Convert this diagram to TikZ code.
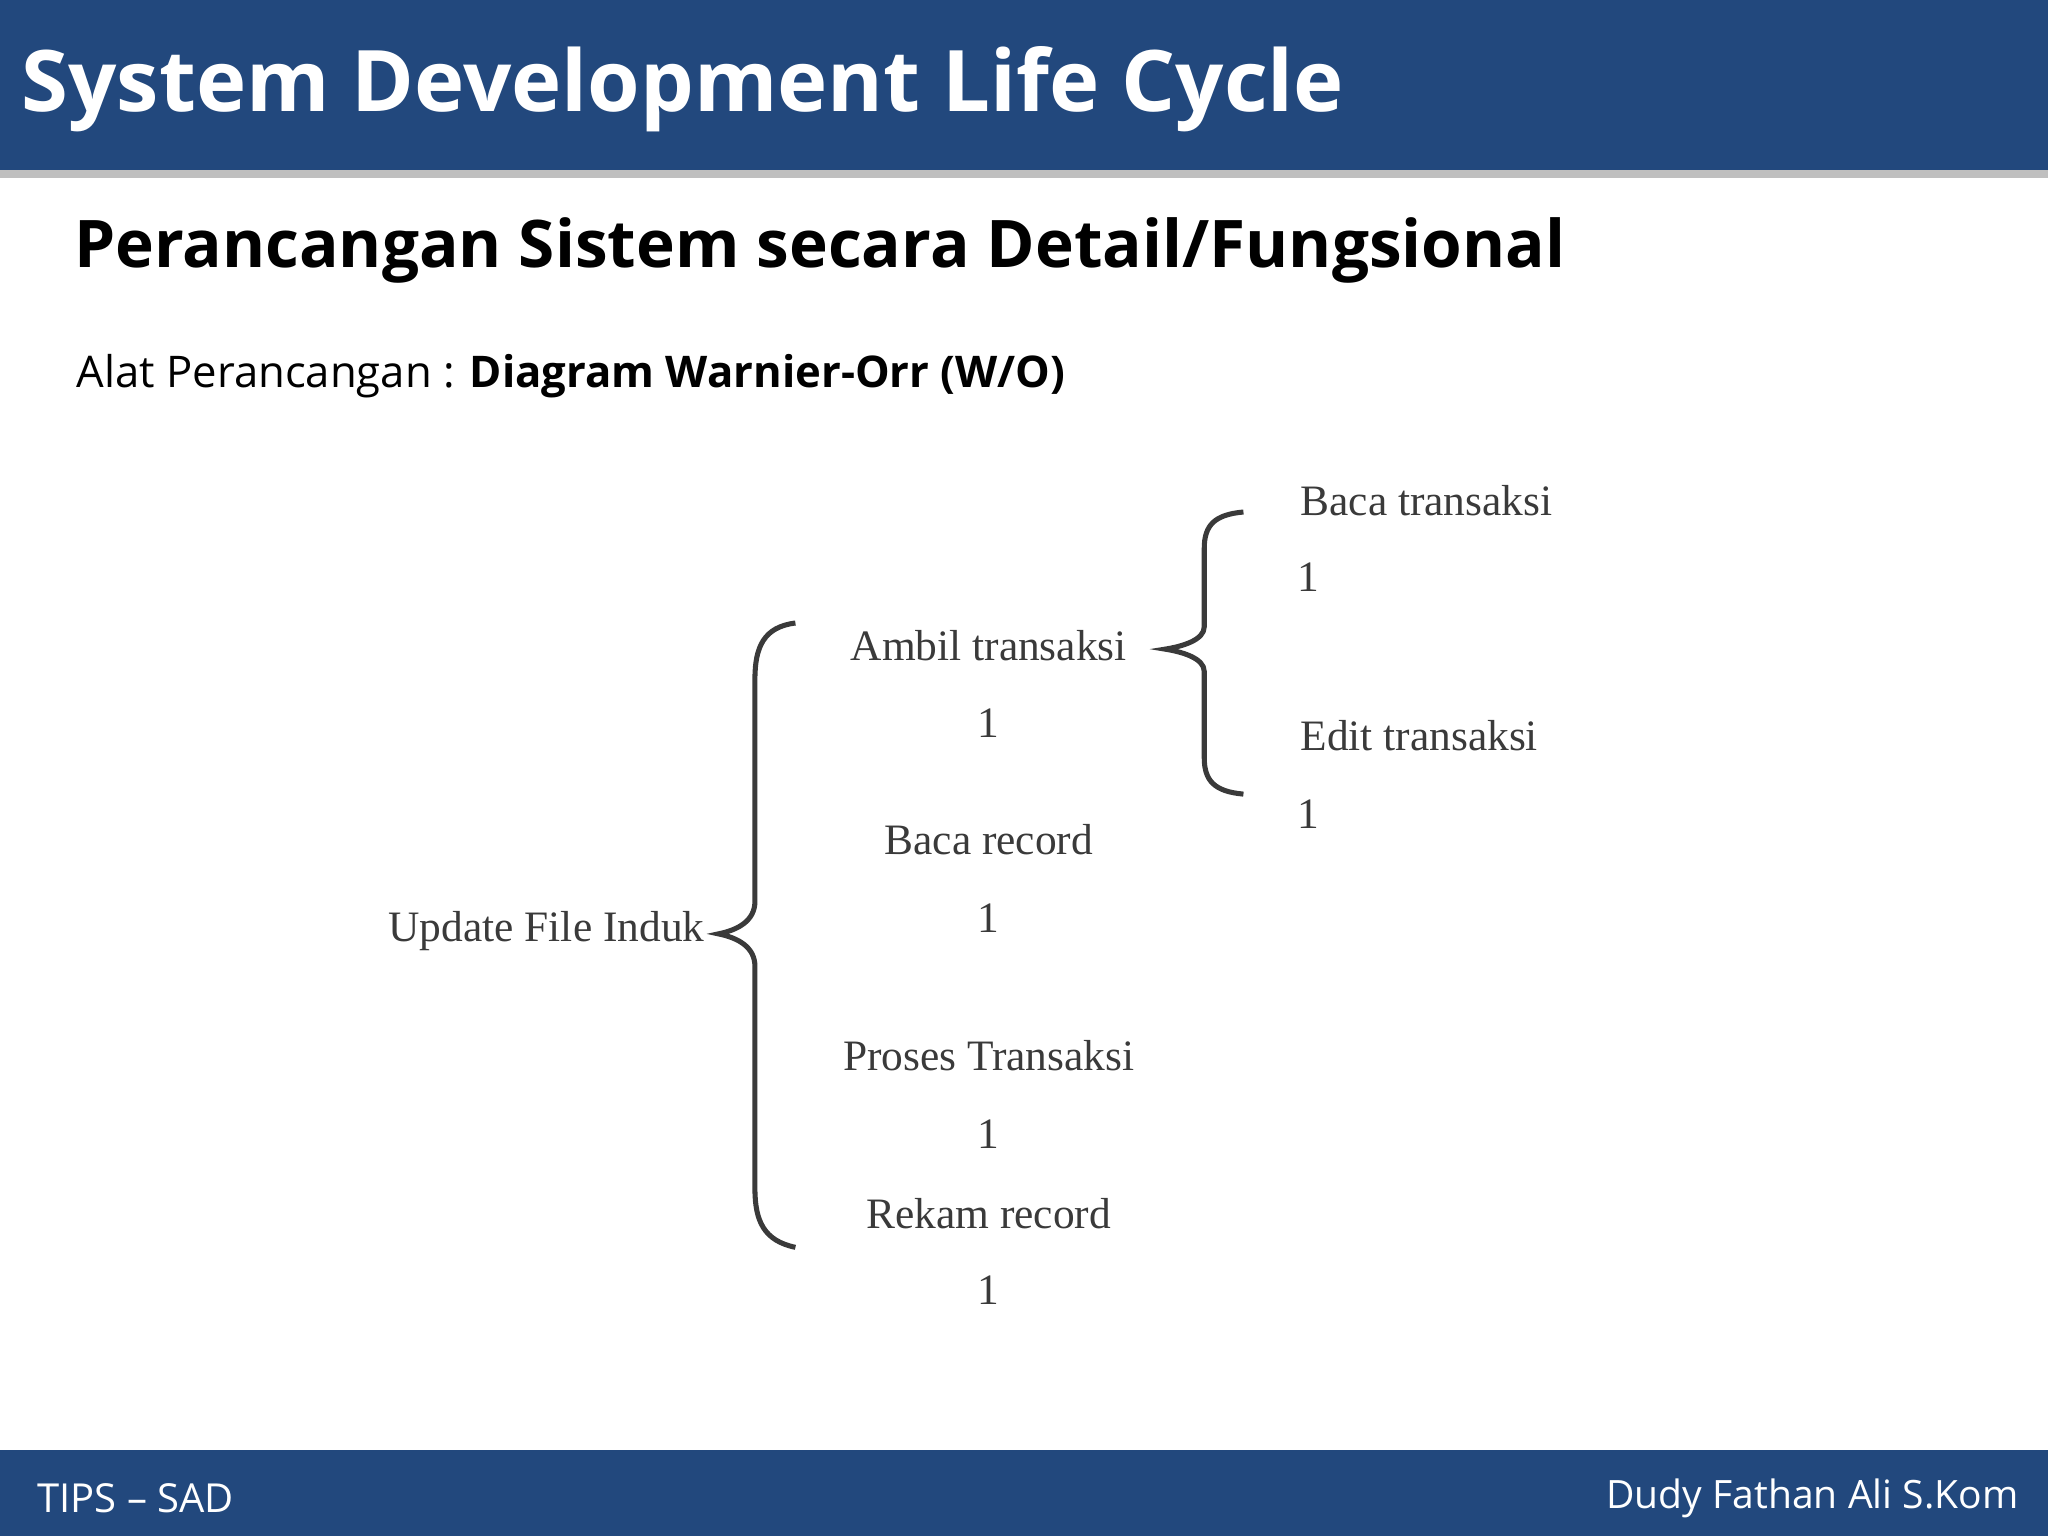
\documentclass[tikz,border=0pt]{standalone}
\usepackage{fontspec}
\setmainfont{Open Sans}
\newfontfamily\serif{Liberation Serif}
\begin{document}
\begin{tikzpicture}[x=0.01cm,y=-0.01cm]
\definecolor{hdr}{HTML}{22487D}
\definecolor{dg}{HTML}{3A3A3A}
\tikzset{wo/.style={font=\serif\fontsize{9.45}{11}\selectfont,text=dg,inner sep=0pt},
 brace/.style={draw=dg,line width=1.1pt}}
\useasboundingbox (0,0) rectangle (1568,1176);
\fill[white] (0,0) rectangle (1568,1176);
\fill[gray!50] (0,128) rectangle (1568,136);
\fill[hdr] (0,0) rectangle (1568,130);
\fill[hdr] (0,1110) rectangle (1568,1176);
\node[anchor=west,text=white,font=\bfseries\fontsize{18.5}{22}\selectfont,inner sep=0pt] (title) at (16,68) {System Development Life Cycle};
\node[anchor=west,font=\bfseries\fontsize{14.3}{17}\selectfont,inner sep=0pt] (sub) at (56,192) {Perancangan Sistem secara Detail/Fungsional};
\node[anchor=west,font=\fontsize{9.5}{12}\selectfont,inner sep=0pt] (alat) at (58,288) {Alat Perancangan : \textbf{Diagram Warnier-Orr (W/O)}};
\node[anchor=west,text=white,font=\fontsize{8.7}{10}\selectfont,inner sep=0pt] (f1) at (28,1147) {TIPS -- SAD};
\node[anchor=east,text=white,font=\fontsize{8.5}{10}\selectfont,inner sep=0pt] (f2) at (1546,1147) {Dudy Fathan Ali S.Kom};
% diagram
\node[wo,anchor=east] (root) at (540,713) {Update File Induk};
\node[wo] (a) at (757,494) {Ambil transaksi};
\node[wo] (a1) at (757,554) {1};
\node[wo] (b) at (757,643) {Baca record};
\node[wo] (b1) at (757,703) {1};
\node[wo] (p) at (757,808) {Proses Transaksi};
\node[wo] (p1) at (757,868) {1};
\node[wo] (r) at (757,929) {Rekam record};
\node[wo] (r1) at (757,988) {1};
\node[wo,anchor=west] (bt) at (995,383) {Baca transaksi};
\node[wo] (bt1) at (1002,442) {1};
\node[wo,anchor=west] (et) at (995,563) {Edit transaksi};
\node[wo] (et1) at (1002,623) {1};
\draw[brace] (609,477) .. controls (585,480) and (578,495) .. (578,520) -- (578,690) .. controls (578,705) and (565,712) .. (550,715)
 .. controls (565,718) and (578,725) .. (578,740) -- (578,910) .. controls (578,935) and (585,950) .. (609,955);
\draw[brace] (952,392) .. controls (930,394) and (922,402) .. (922,420) -- (922,480) .. controls (922,490) and (905,495) .. (892,497)
 .. controls (905,499) and (922,504) .. (922,514) -- (922,580) .. controls (922,598) and (930,606) .. (952,608);
\end{tikzpicture}
\end{document}
